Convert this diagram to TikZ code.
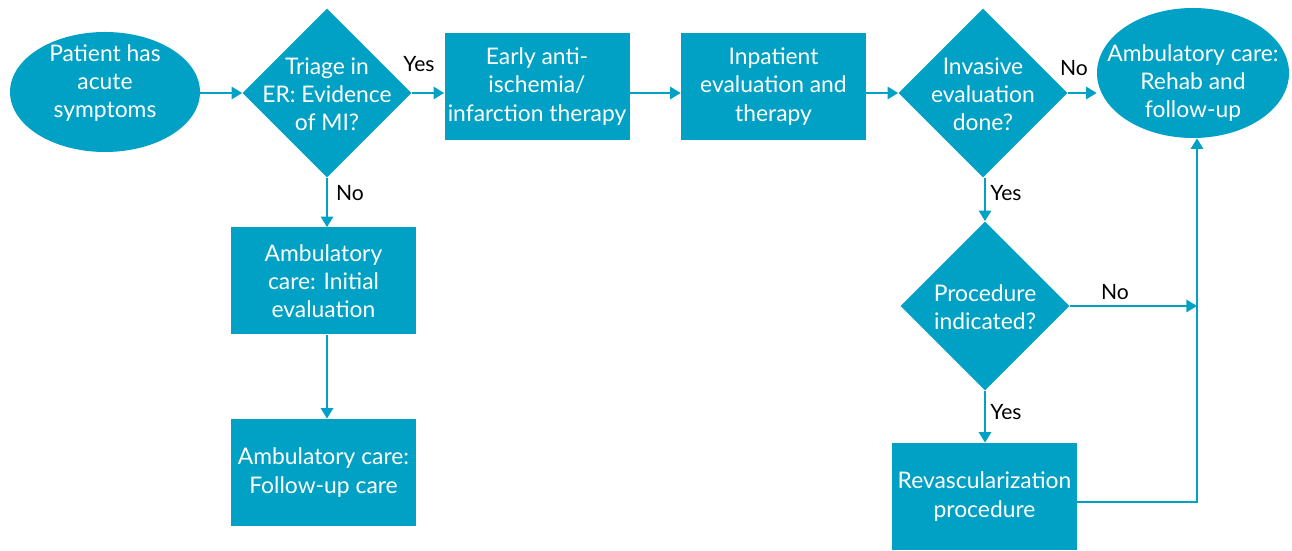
\documentclass[tikz,border=0pt]{standalone}
\usepackage{fontspec}
\setmainfont{Lato}
\usepackage{xcolor}
\usepackage{tikz}
\usetikzlibrary{positioning,shapes.geometric,arrows.meta}

\definecolor{flowblue}{RGB}{0,161,196}
% text that does not change the size of its shape
\newcommand{\flowtxt}[2][-5pt]{\smash{\raisebox{#1}{\makebox[0pt]{\begin{tabular}{@{}c@{}}#2\end{tabular}}}}}

\begin{document}
\begin{tikzpicture}[
  every node/.style={font=\fontsize{13}{16}\selectfont},
  stepbox/.style={rectangle, fill=flowblue, text=white, inner sep=0pt, minimum width=3.7cm, minimum height=2.14cm, align=center},
  roundbox/.style={ellipse, fill=flowblue, text=white, inner sep=0pt},
  choicebox/.style={diamond, fill=flowblue, text=white, inner sep=0pt, minimum size=3.38cm},
  flowarrow/.style={draw=flowblue, line width=1.1pt, -{Triangle[width=7pt,length=6pt]}},
  answer/.style={text=black, font=\fontsize{12}{14}\selectfont}]
\useasboundingbox (0,0) rectangle (25.84,11);

\node[roundbox, minimum width=3.8cm, minimum height=2.4cm] (patient) at (2.10, 9.16) {\flowtxt[1.7pt]{Patient has\\acute\\symptoms}};
\node[choicebox] (triage) at (6.54, 9.14) {\flowtxt{Triage in\\ER: Evidence\\of MI?}};
\node[stepbox] (early) at (10.74, 9.27) {Early anti-\\ischemia/\\infarction therapy};
\node[stepbox] (inpatient) at (15.47, 9.27) {Inpatient\\evaluation and\\therapy};
\node[choicebox] (invasive) at (19.66, 9.14) {\flowtxt{Invasive\\evaluation\\done?}};
\node[roundbox, minimum width=3.84cm, minimum height=2.6cm] (rehab) at (23.86, 9.54) {\flowtxt[-9pt]{Ambulatory care:\\Rehab and\\follow-up}};

\node[stepbox] (initial) at (6.47, 5.38) {Ambulatory\\care: Initial\\evaluation};
\node[stepbox] (followup) at (6.47, 1.55) {Ambulatory care:\\Follow-up care};

\node[choicebox] (indicated) at (19.70, 4.88) {\flowtxt{Procedure\\indicated?}};
\node[stepbox] (revasc) at (19.69, 1.07) {Revascularization\\procedure};

\coordinate (merge) at (23.94, 4.88);

\draw[flowarrow] (patient.east |- triage.west) -- (triage.west);
\draw[flowarrow] (triage.east) -- (triage.east -| early.west);
\draw[flowarrow] (early.east |- triage.east) -- (inpatient.west |- triage.east);
\draw[flowarrow] (inpatient.east |- invasive.west) -- (invasive.west);
\draw[flowarrow] (invasive.east) -- (invasive.east -| rehab.west);
\draw[flowarrow] (triage.south) -- (triage.south |- initial.north);
\draw[flowarrow] (triage.south |- initial.south) -- (triage.south |- followup.north);
\draw[flowarrow] (indicated.north |- invasive.south) -- (indicated.north);
\draw[flowarrow] (indicated.east) -- (merge);
\draw[flowarrow] (indicated.south) -- (indicated.south |- revasc.north);
\draw[flowarrow] ([yshift=-0.11cm]revasc.east) -| (merge |- rehab.south);

\node[answer] (yes1) at (8.38, 9.72) {Yes};
\node[answer] (no1) at (7.00, 7.14) {No};
\node[answer] (no2) at (21.48, 9.64) {No};
\node[answer] (yes2) at (20.12, 7.14) {Yes};
\node[answer] (no3) at (22.30, 5.16) {No};
\node[answer] (yes3) at (20.12, 2.76) {Yes};

\end{tikzpicture}
\end{document}
